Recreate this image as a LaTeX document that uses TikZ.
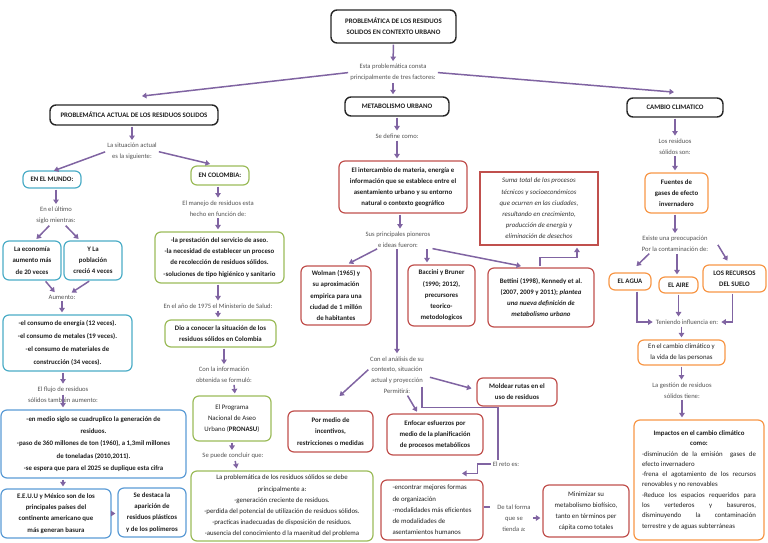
\documentclass[tikz,border=0pt]{standalone}
\usepackage{fontspec}
\setmainfont{Carlito}
\usetikzlibrary{arrows.meta}
\definecolor{arrc}{HTML}{8064A2}
\definecolor{cyanc}{HTML}{4BACC6}
\definecolor{bluec}{HTML}{5B9BD5}
\definecolor{grnc}{HTML}{9BBB59}
\definecolor{redc}{HTML}{C0504D}
\definecolor{orgc}{HTML}{F79646}
\setlength{\parindent}{0pt}
\newcommand{\fsz}{\fontsize{6.85}{11.2}\selectfont}
\tikzset{
  sz/.style 2 args={minimum width=#1pt, minimum height=#2pt},
  bxbase/.style={draw, rounded corners=6pt, line width=1.2pt, align=center, inner sep=1pt, text=black!88, font=\fsz},
  bxb/.style={bxbase, font=\fsz\bfseries},
  blk/.style={bxb, draw=black!85, line width=1.4pt},
  cyb/.style={bxb, draw=cyanc},
  blb/.style={bxb, draw=bluec},
  grb/.style={bxb, draw=grnc},
  grn/.style={bxbase, draw=grnc},
  rdb/.style={bxb, draw=redc},
  rdn/.style={bxbase, draw=redc},
  orb/.style={bxb, draw=orgc},
  orn/.style={bxbase, draw=orgc},
  lbl/.style={align=center, inner sep=1pt, font=\fontsize{6.6}{10.8}\selectfont, text=black!68},
  arr/.style={draw=arrc, line width=1.5pt, -{Triangle[length=4.5pt,width=5.5pt]}, shorten >=2pt, shorten <=1pt},
  ln/.style={draw=arrc, line width=1.5pt}
}
\begin{document}
\begin{tikzpicture}[x=1pt,y=-1pt]
\useasboundingbox (0,0) rectangle (768,543);

% ---------- top ----------
\node[blk, sz={125}{33}] (title) at (393.5,26.5) {PROBLEMÁTICA DE LOS RESIDUOS\\SOLIDOS EN CONTEXTO URBANO};
\node[lbl] (lesta) at (393,72.5) {Esta problemática consta\\principalmente de tres factores:};
\node[blk, sz={168}{20}] (probact) at (134,115) {PROBLEMÁTICA ACTUAL DE LOS RESIDUOS SOLIDOS};
\node[blk, sz={104}{19}] (metab) at (397,106.5) {METABOLISMO URBANO};
\node[blk, sz={96}{19}] (cambio) at (675,107.5) {CAMBIO CLIMATICO};

% ---------- left: world ----------
\node[lbl] (lsit) at (132,151.5) {La situación actual\\es la siguiente:};
\node[cyb, sz={58}{17}] (mundo) at (52,179.5) {EN EL MUNDO:};
\node[grb, sz={58}{19}] (colombia) at (220,175.5) {EN COLOMBIA:};
\node[lbl] (lult) at (56,215.5) {En el último\\siglo mientras:};
\node[cyb, sz={58}{39}] (economia) at (32,260.5) {La economía\\aumento más\\de 20 veces};
\node[cyb, sz={58}{39}] (ypob) at (93,260.5) {Y La\\población\\creció 4 veces};
\node[lbl] (laum) at (62,297) {Aumento:};
\node[cyb, sz={129}{56}, font=\fontsize{6.85}{13}\selectfont\bfseries] (consumo) at (67.5,343) {-el consumo de energía (12 veces).\\-el consumo de metales (19 veces).\\-el consumo de materiales de\\construcción (34 veces).};
\node[lbl] (lflujo) at (63,394.5) {El flujo de residuos\\sólidos también aumento:};
\node[blb, sz={185}{68}, font=\fontsize{6.85}{12.3}\selectfont\bfseries] (cuadr) at (93.5,444) {-en medio siglo se cuadruplico la generación de\\residuos.\\-paso de 360 millones de ton (1960), a 1,3mil millones\\de toneladas (2010,2011).\\-se espera que para el 2025 se duplique esta cifra};
\node[blb, sz={110}{49}] (eeuu) at (56,513.5) {E.E.U.U y México son de los\\principales países del\\continente americano que\\más generan basura};
\node[blb, sz={68}{49}] (destaca) at (152,512.5) {Se destaca la\\aparición de\\residuos plásticos\\y de los polímeros};

% ---------- left: Colombia ----------
\node[lbl] (lmanejo) at (218,208.5) {El manejo de residuos esta\\hecho en función de:};
\node[grb, sz={129}{51}] (prest) at (219.5,257.5) {-la prestación del servicio de aseo.\\-la necesidad de establecer un proceso\\de recolección de residuos sólidos.\\-soluciones de tipo higiénico y sanitario};
\node[lbl] (l1975) at (218,306) {En el año de 1975 el Ministerio de Salud:};
\node[grb, sz={111}{27}] (dio) at (220.5,333.5) {Dio a conocer la situación de los\\residuos sólidos en Colombia};
\node[lbl] (linfo) at (224,375) {Con la información\\obtenida se formuló:};
\node[grn, sz={78}{45}] (pronasu) at (232,418.5) {El Programa\\Nacional de Aseo\\Urbano (\textbf{PRONASU})};
\node[lbl] (lconcl) at (233,456) {Se puede concluir que:};
\node[grn, sz={182}{70}] (problem) at (282,506) {La problemática de los residuos sólidos se debe\\principalmente a:\\-generación creciente de residuos.\\-perdida del potencial de utilización de residuos sólidos.\\-practicas inadecuadas de disposición de residuos.\\-ausencia del conocimiento d la maenitud del problema};

% ---------- middle: metabolism ----------
\node[lbl] (ldefine) at (397,136) {Se define como:};
\node[rdb, sz={128}{52}] (interc) at (403,187) {El intercambio de materia, energía e\\información que se establece entre el\\asentamiento urbano y su entorno\\natural o contexto geográfico};
\node[draw=redc, line width=1.2pt, align=center, inner sep=1pt, text=black!80, font=\fsz\itshape, sz={118}{73}] (suma) at (539,208.5) {Suma total de los procesos\\técnicos y socioeconómicos\\que ocurren en las ciudades,\\resultando en crecimiento,\\producción de energía y\\eliminación de desechos};
\node[lbl] (lpion) at (398,239.5) {Sus principales pioneros\\e ideas fueron:};
\node[rdb, sz={70}{59}] (wolman) at (336,295.5) {Wolman (1965) y\\su aproximación\\empirica para una\\ciudad de 1 millón\\de habitantes};
\node[rdb, sz={67}{61}] (baccini) at (441.5,295.5) {Baccini y Bruner\\(1990; 2012),\\precursores\\teorico-\\metodologicos};
\node[rdb, sz={106}{59}] (bettini) at (541,297.5) {Bettini (1998), Kennedy et al.\\(2007, 2009 y 2011); \textit{plantea}\\\textit{una nueva definición de}\\\textit{metabolismo urbano}};
\node[lbl] (lanal) at (397,375) {Con el análisis de su\\contexto, situación\\actual y proyección\\Permitirá:};
\node[rdb, sz={85}{41}] (pormedio) at (330.5,431.5) {Por medio de\\incentivos,\\restricciones o medidas};
\node[rdb, sz={96}{41}] (enfocar) at (435,434.5) {Enfocar esfuerzos por\\medio de la planificación\\de procesos metabólicos};
\node[rdb, sz={80}{28}] (moldear) at (517,392) {Moldear rutas en el\\uso de residuos};
\node[lbl] (lreto) at (506,464) {El reto es:};
\node[rdn, sz={102}{60}, align=left] (encontrar) at (432,510) {-encontrar mejores formas\\de organización\\-modalidades más eficientes\\de modalidades de\\asentamientos humanos};
\node[lbl] (ltal) at (514,518) {De tal forma\\que se\\tienda a:};
\node[rdn, sz={86}{52}] (minim) at (586,511) {Minimizar su\\metabolismo biofísico,\\tanto en términos per\\cápita como totales};

% ---------- right: climate ----------
\node[lbl] (lres) at (675,146.5) {Los residuos\\sólidos son:};
\node[orb, sz={63}{40}] (fuentes) at (676.5,193) {Fuentes de\\gases de efecto\\invernadero};
\node[lbl] (lpreoc) at (675,244) {Existe una preocupación\\Por la contaminación de:};
\node[orb, sz={42}{17}] (agua) at (630,281.5) {EL AGUA};
\node[orb, sz={39}{16}] (aire) at (678.5,285) {EL AIRE};
\node[orb, sz={63}{27}] (recursos) at (734.5,278.5) {LOS RECURSOS\\DEL SUELO};
\node[lbl] (linfl) at (687,322) {Teniendo influencia en:};
\node[orn, sz={87}{25}] (envida) at (681.5,352.5) {En el cambio climático y\\la vida de las personas};
\node[lbl] (lgest) at (682,390.5) {La gestión de residuos\\sólidos tiene:};
\node[orn, sz={130}{120}, text width=114pt, align=justify, font=\fontsize{6.85}{10.3}\selectfont] (impactos) at (699,480) {{\centering\textbf{Impactos en el cambio climático}\\\textbf{como:}\par}-disminución de la emisión\ \ gases de\linebreak efecto invernadero\par -frena el agotamiento de los recursos\linebreak renovables y no renovables\par -Reduce los espacios requeridos para\linebreak los vertederos y basureros,\linebreak disminuyendo la contaminación\linebreak terrestre y de aguas subterráneas\par};

% ---------- connectors ----------
\draw[arr] (title.south) -- (lesta.north);
\draw[arr] (lesta.south) -- (lesta.south |- metab.north);
\draw[arr] (lesta.west) -- ([shift={(6,-8)}]probact.north);
\draw[arr] (lesta.east) -- ([shift={(1,-5)}]cambio.north);

\draw[arr] (probact.south -| lsit.north) -- (lsit.north);
\draw[arr] (lsit.west) -- ([yshift=-1]mundo.north);
\draw[arr] (lsit.east) -- ([shift={(-8,-1)}]colombia.north);
\draw[arr] (lult.north |- mundo.south) -- (lult.north);
\draw[arr] ([xshift=-6]lult.south) -- ([xshift=3]economia.north);
\draw[arr] ([xshift=9]lult.south) -- ([xshift=-13]ypob.north);
\draw[arr] ([xshift=13]economia.south) -- ([xshift=-6]laum.north);
\draw[arr] ([xshift=-3]ypob.south) -- ([xshift=8]laum.north);
\draw[arr] (laum.south) -- (laum.south |- consumo.north);
\draw[arr] (lflujo.north |- consumo.south) -- (lflujo.north);
\draw[arr] ([yshift=1]lflujo.center) -- (lflujo.center |- cuadr.north);
\draw[arr] (lflujo.center |- cuadr.south) -- (lflujo.center |- eeuu.north);
\draw[arr] (eeuu.east) -- (eeuu.east -| destaca.west);

\draw[arr] (lmanejo.north |- colombia.south) -- (lmanejo.north);
\draw[arr] (lmanejo.south) -- (lmanejo.south |- prest.north);
\draw[arr] (l1975.north |- prest.south) -- (l1975.north);
\draw[arr] (l1975.south) -- (l1975.south |- dio.north);
\draw[arr] (linfo.north |- dio.south) -- (linfo.north);
\draw[arr] ([xshift=10]linfo.south) -- ([xshift=3]pronasu.north);
\draw[arr] (pronasu.south) -- (pronasu.south |- lconcl.north);
\draw[arr] ([xshift=2]lconcl.south) -- ([xshift=-45]problem.north);

\draw[arr] (metab.south -| ldefine.north) -- (ldefine.north);
\draw[arr] (ldefine.south) -- (ldefine.south |- interc.north);
\draw[arr] ([xshift=-3]interc.south) -- ([xshift=-3]interc.south |- lpion.north);
\draw[arr] ([xshift=-20]lpion.south) -- ([shift={(11,-1)}]wolman.north);
\draw[arr] ([xshift=29]lpion.south) -- ([xshift=-14.5]baccini.north);
\draw[arr] (lpion.south east) -- ([shift={(-18,-1)}]bettini.north);
\draw[arr] ([xshift=-1]lpion.south) -- ([xshift=-1]lpion.south |- lanal.north);
\draw[arr] ([xshift=-1]bettini.north) -- ++(0,-10) -| ([xshift=38]suma.south);

\draw[arr] ([yshift=6]lanal.west) -- ([shift={(7.5,-13)}]pormedio.north);
\draw[arr] ([xshift=10]lanal.south) -- ([xshift=-17]enfocar.north);
\draw[arr] ([shift={(4,2)}]lanal.east) -- ([shift={(-3,-3)}]moldear.west);
\draw[ln] ([shift={(25,-8)}]lanal.south) -- ++(0,21) -| ([xshift=-8]lreto.north);
\draw[arr] (lreto.west) -- ++(-14,0) |- ([shift={(28,-6)}]encontrar.north);
\draw[ln] ([yshift=3]encontrar.east) -- ++(6,0);
\draw[arr] (ltal.east) -- (ltal.east -| minim.west);

\draw[arr] (cambio.south) -- (cambio.south |- lres.north);
\draw[arr] (lres.south) -- (lres.south |- fuentes.north);
\draw[arr] (lres.south |- fuentes.south) -- (lpreoc.north);
\draw[arr] ([xshift=-25]lpreoc.south) -- ([shift={(5,-5)}]agua.north);
\draw[arr] ([xshift=2]lpreoc.south) -- ([xshift=-1.5]aire.north);
\draw[arr] ([xshift=8]lpreoc.east) -- ([shift={(-6,-2)}]recursos.north);
\draw[arr] (aire.south) -- (aire.south |- linfl.north);
\draw[arr] ([xshift=7]agua.south) |- (linfl.west);
\draw[arr] ([xshift=-2]recursos.south) |- (linfl.east);
\draw[arr] (envida.north |- linfl.south) -- (envida.north);
\draw[arr] (envida.south) -- (envida.south |- lgest.north);
\draw[arr] (lgest.south) -- (lgest.south |- impactos.north);
\end{tikzpicture}
\end{document}
